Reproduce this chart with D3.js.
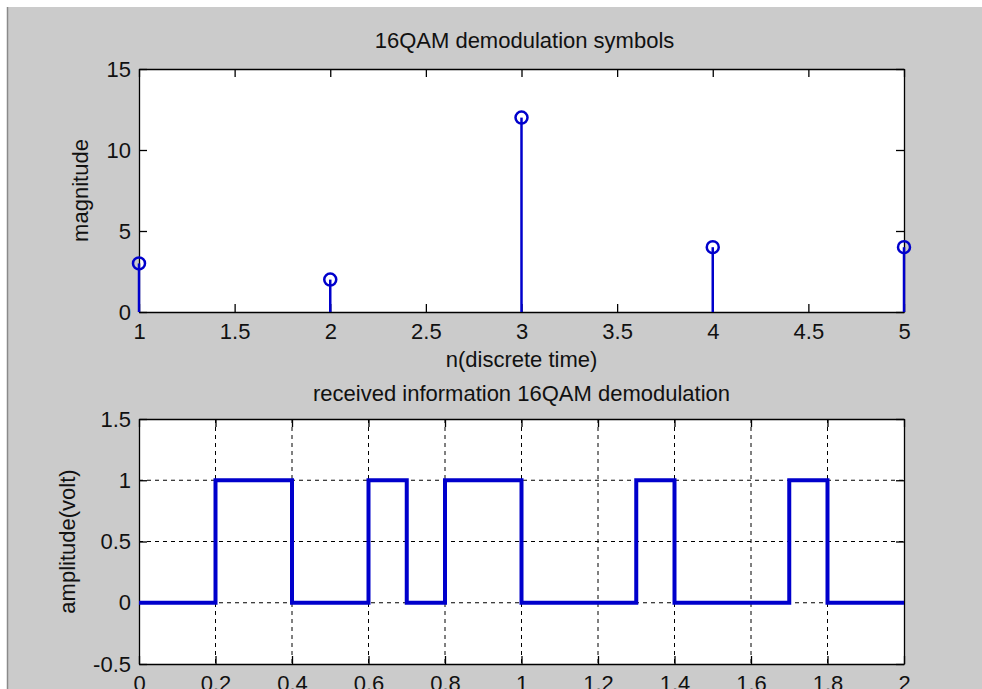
<!DOCTYPE html>
<html>
<head>
<meta charset="utf-8">
<script src="https://cdn.jsdelivr.net/npm/d3@7"></script>
<style>
  body { margin: 0; background: #cbcbcb; overflow: hidden; }
  svg { display: block; }
  text { font-family: "Liberation Sans", Arial, sans-serif; fill: #111; }
</style>
</head>
<body>
<svg></svg>
<script>
// upper plot: demodulated symbols
var symbolIndex = [1, 2, 3, 4, 5];
var symbolMagnitude = [3, 2, 12, 4, 4];
var symbolXTicks = [1, 1.5, 2, 2.5, 3, 3.5, 4, 4.5, 5];
var symbolYTicks = [0, 5, 10, 15];

// lower plot: received bit stream (one bit every 0.1)
var bitStart = [0, 0.1, 0.2, 0.3, 0.4, 0.5, 0.6, 0.7, 0.8, 0.9,
                1.0, 1.1, 1.2, 1.3, 1.4, 1.5, 1.6, 1.7, 1.8, 1.9];
var bitValue = [0, 0, 1, 1, 0, 0, 1, 0, 1, 1,
                0, 0, 0, 1, 0, 0, 0, 1, 0, 0];
var bitEnd = 2;
var timeTicks = [0, 0.2, 0.4, 0.6, 0.8, 1, 1.2, 1.4, 1.6, 1.8, 2];
var ampTicks = [-0.5, 0, 0.5, 1, 1.5];

var width = 982, height = 689;
var blue = "#0000cc";
var fontSize = 22;

var svg = d3.select("svg").attr("width", width).attr("height", height);

drawEverything();

function drawEverything() {
  drawFrame();
  drawSymbols();
  drawBits();
}

function drawFrame() {
  // bits of the window around the figure
  svg.append("rect").attr("x", 0).attr("y", 0).attr("width", width).attr("height", 7).attr("fill", "#fff");
  svg.append("rect").attr("x", 0).attr("y", 0).attr("width", 7).attr("height", height).attr("fill", "#fff");
  svg.append("line")
    .attr("x1", 7.5).attr("y1", 7).attr("x2", 7.5).attr("y2", height)
    .attr("stroke", "#8a8a8a").attr("stroke-width", 1.5);
}

// draws a boxed MATLAB style axes with inward ticks, returns the group
function drawBox(x, y, xTicks, yTicks) {
  var left = x.range()[0], right = x.range()[1];
  var top = y.range()[1], bottom = y.range()[0];

  var g = svg.append("g");

  g.append("rect")
    .attr("x", left).attr("y", top)
    .attr("width", right - left).attr("height", bottom - top)
    .attr("fill", "#fff");

  var grid = g.append("g").attr("class", "grid");

  var tick = 8;

  g.append("g")
    .attr("transform", `translate(0,${bottom})`)
    .call(d3.axisBottom(x).tickValues(xTicks).tickSizeInner(-tick).tickSizeOuter(0)
      .tickPadding(11).tickFormat((d) => String(d)));

  g.append("g")
    .attr("transform", `translate(0,${top})`)
    .call(d3.axisTop(x).tickValues(xTicks).tickSizeInner(-tick).tickSizeOuter(0).tickFormat(""));

  g.append("g")
    .attr("transform", `translate(${left},0)`)
    .call(d3.axisLeft(y).tickValues(yTicks).tickSizeInner(-tick).tickSizeOuter(0)
      .tickPadding(8).tickFormat((d) => String(d)));

  g.append("g")
    .attr("transform", `translate(${right},0)`)
    .call(d3.axisRight(y).tickValues(yTicks).tickSizeInner(-tick).tickSizeOuter(0).tickFormat(""));

  g.selectAll(".domain").attr("stroke", "#000").attr("stroke-width", 1.3);
  g.selectAll(".tick line").attr("stroke", "#000").attr("stroke-width", 1.3);
  g.selectAll(".tick text")
    .attr("fill", "#111")
    .style("font-family", '"Liberation Sans", Arial, sans-serif')
    .style("font-size", fontSize + "px");

  return { g: g, grid: grid, left: left, right: right, top: top, bottom: bottom };
}

function drawText(x, y, label, rotate) {
  svg.append("text")
    .attr("transform", `translate(${x},${y})` + (rotate ? " rotate(-90)" : ""))
    .attr("text-anchor", "middle")
    .style("font-size", fontSize + "px")
    .text(label);
}

function drawSymbols() {
  var x = d3.scaleLinear().domain([1, 5]).range([139, 904]);
  var y = d3.scaleLinear().domain([0, 15]).range([312, 69]);

  var box = drawBox(x, y, symbolXTicks, symbolYTicks);

  var stems = svg.append("g");
  symbolIndex.forEach((n, i) => {
    stems.append("line")
      .attr("x1", x(n)).attr("x2", x(n))
      .attr("y1", y(0)).attr("y2", y(symbolMagnitude[i]))
      .attr("stroke", blue).attr("stroke-width", 2.5);
  });
  stems.selectAll("circle")
    .data(symbolIndex)
    .enter()
    .append("circle")
    .attr("cx", (d) => x(d))
    .attr("cy", (d, i) => y(symbolMagnitude[i]))
    .attr("r", 6)
    .attr("fill", "none")
    .attr("stroke", blue)
    .attr("stroke-width", 2.5);

  drawText((box.left + box.right) / 2 + 3, 48, "16QAM demodulation symbols");
  drawText((box.left + box.right) / 2, 367, "n(discrete time)");
  drawText(88, (box.top + box.bottom) / 2, "magnitude", true);
}

function drawBits() {
  var x = d3.scaleLinear().domain([0, 2]).range([139, 904]);
  var y = d3.scaleLinear().domain([-0.5, 1.5]).range([664, 419]);

  var box = drawBox(x, y, timeTicks, ampTicks);

  // dotted grid
  box.grid.selectAll("line.v")
    .data(timeTicks.slice(1, -1))
    .enter()
    .append("line")
    .attr("class", "v")
    .attr("x1", (d) => x(d)).attr("x2", (d) => x(d))
    .attr("y1", box.top).attr("y2", box.bottom)
    .attr("stroke", "#000").attr("stroke-width", 1).attr("stroke-dasharray", "4,4");
  box.grid.selectAll("line.h")
    .data(ampTicks.slice(1, -1))
    .enter()
    .append("line")
    .attr("class", "h")
    .attr("x1", box.left).attr("x2", box.right)
    .attr("y1", (d) => y(d)).attr("y2", (d) => y(d))
    .attr("stroke", "#000").attr("stroke-width", 1).attr("stroke-dasharray", "4,4");

  var points = bitStart.map((t, i) => [t, bitValue[i]]);
  points.push([bitEnd, bitValue[bitValue.length - 1]]);

  var line = d3.line()
    .x((d) => x(d[0]))
    .y((d) => y(d[1]))
    .curve(d3.curveStepAfter);

  svg.append("path")
    .attr("d", line(points))
    .attr("fill", "none")
    .attr("stroke", blue)
    .attr("stroke-width", 4)
    .attr("stroke-linejoin", "miter");

  drawText((box.left + box.right) / 2, 401, "received information 16QAM demodulation");
  drawText(75, (box.top + box.bottom) / 2, "amplitude(volt)", true);
}
</script>
</body>
</html>
